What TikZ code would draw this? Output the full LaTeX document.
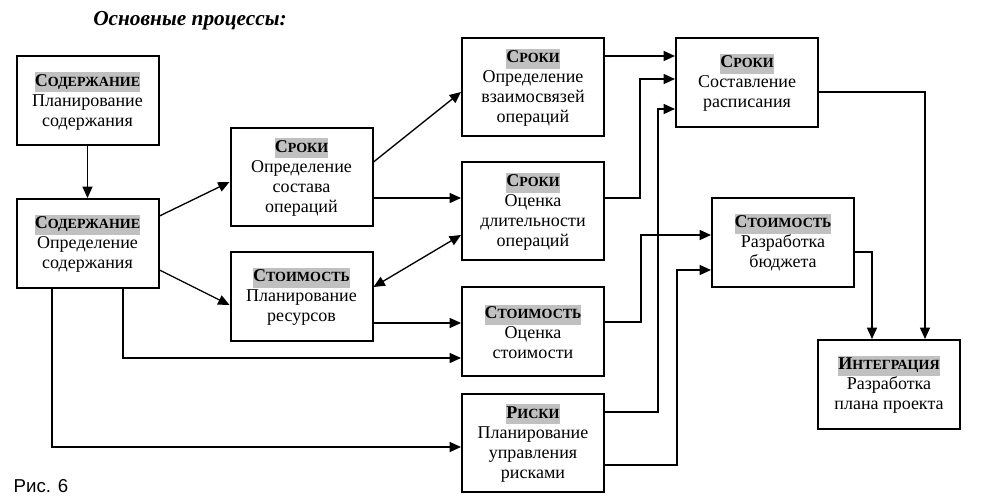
\documentclass[tikz,border=0pt]{standalone}
\usepackage{fontspec}
\setmainfont{Liberation Serif}
\newfontfamily\capfont{Liberation Sans}
\usetikzlibrary{arrows.meta,positioning}
\definecolor{hdgray}{HTML}{C0C0C0}
\newcommand{\hdr}[2]{{\setlength{\fboxsep}{0pt}\colorbox{hdgray}{\strut\textbf{#1{\fontsize{10.5}{15}\selectfont #2}}}}}

\begin{document}
\begin{tikzpicture}[x=0.75pt,y=-0.75pt,
    box/.style={draw, line width=1.5pt, align=center, inner sep=0pt,
      minimum width=106.5pt, minimum height=66.75pt,
      font=\fontsize{13.5}{15}\selectfont},
    tall/.style={minimum height=73.5pt},
    arr/.style={line width=1pt, -{Triangle[length=8.5pt,width=7.5pt]}}]
  \useasboundingbox (0,0) rectangle (1001,499);

  % Title and caption
  \node (title) at (190,21) {\fontsize{16}{18}\selectfont\bfseries\itshape Основные процессы:};
  \node (fig) at (41,486) {\capfont\fontsize{14}{16}\selectfont Рис. 6};

  % Process boxes
  \node[box] (scopeplan) at (87.5,101) {\hdr{С}{ОДЕРЖАНИЕ}\\Планирование\\содержания};
  \node[box] (scopedef) at (87.5,243.5) {\hdr{С}{ОДЕРЖАНИЕ}\\Определение\\содержания};
  \node[box,tall] (actdef) at (301.5,177) {\hdr{С}{РОКИ}\\Определение\\состава\\операций};
  \node[box] (resplan) at (301.5,296.5) {\hdr{С}{ТОИМОСТЬ}\\Планирование\\ресурсов};
  \node[box,tall] (actseq) at (533,87.5) {\hdr{С}{РОКИ}\\Определение\\взаимосвязей\\операций};
  \node[box,tall] (actdur) at (533,211.5) {\hdr{С}{РОКИ}\\Оценка\\длительности\\операций};
  \node[box] (costest) at (533,332) {\hdr{С}{ТОИМОСТЬ}\\Оценка\\стоимости};
  \node[box,tall] (riskplan) at (533,443) {\hdr{Р}{ИСКИ}\\Планирование\\управления\\рисками};
  \node[box] (schedule) at (747,82.5) {\hdr{С}{РОКИ}\\Составление\\расписания};
  \node[box] (budget) at (783,242.5) {\hdr{С}{ТОИМОСТЬ}\\Разработка\\бюджета};
  \node[box] (plan) at (889,384.5) {\hdr{И}{НТЕГРАЦИЯ}\\Разработка\\плана проекта};

  % Connectors
  \draw[arr] (scopeplan) -- (scopedef);
  \draw[arr] (scopedef.east |- 0,216) -- (actdef.west |- 0,182);
  \draw[arr] (scopedef.east |- 0,270) -- (resplan.west |- 0,305);
  \draw[arr] (scopedef.south -| 123,0) |- (costest.west |- 0,358);
  \draw[arr] (scopedef.south -| 52,0) |- (riskplan.west |- 0,447);
  \draw[arr] (actdef.east |- 0,162) -- (actseq.west |- 0,92);
  \draw[arr] (actdef.east |- 0,198) -- (actdur.west |- 0,198);
  \draw[line width=1pt, {Triangle[length=8.5pt,width=7.5pt]}-{Triangle[length=8.5pt,width=7.5pt]}]
    (resplan.east |- 0,287) -- (actdur.west |- 0,235);
  \draw[arr] (resplan.east |- 0,323) -- (costest.west |- 0,323);
  \draw[arr] (actseq.east |- 0,56) -- (schedule.west |- 0,56);
  \draw[arr] (actdur.east |- 0,198) -- ++(35,0) |- (schedule.west |- 0,79);
  \draw[arr] (costest.east |- 0,322) -- ++(36,0) |- (budget.west |- 0,235);
  \draw[arr] (riskplan.east |- 0,412) -- ++(53,0) |- (schedule.west |- 0,109);
  \draw[arr] (riskplan.east |- 0,465) -- ++(72,0) |- (budget.west |- 0,270);
  \draw[arr] (budget.east |- 0,252) -| (plan.north -| 872,0);
  \draw[arr] (schedule.east |- 0,92) -| (plan.north -| 925,0);
\end{tikzpicture}
\end{document}
